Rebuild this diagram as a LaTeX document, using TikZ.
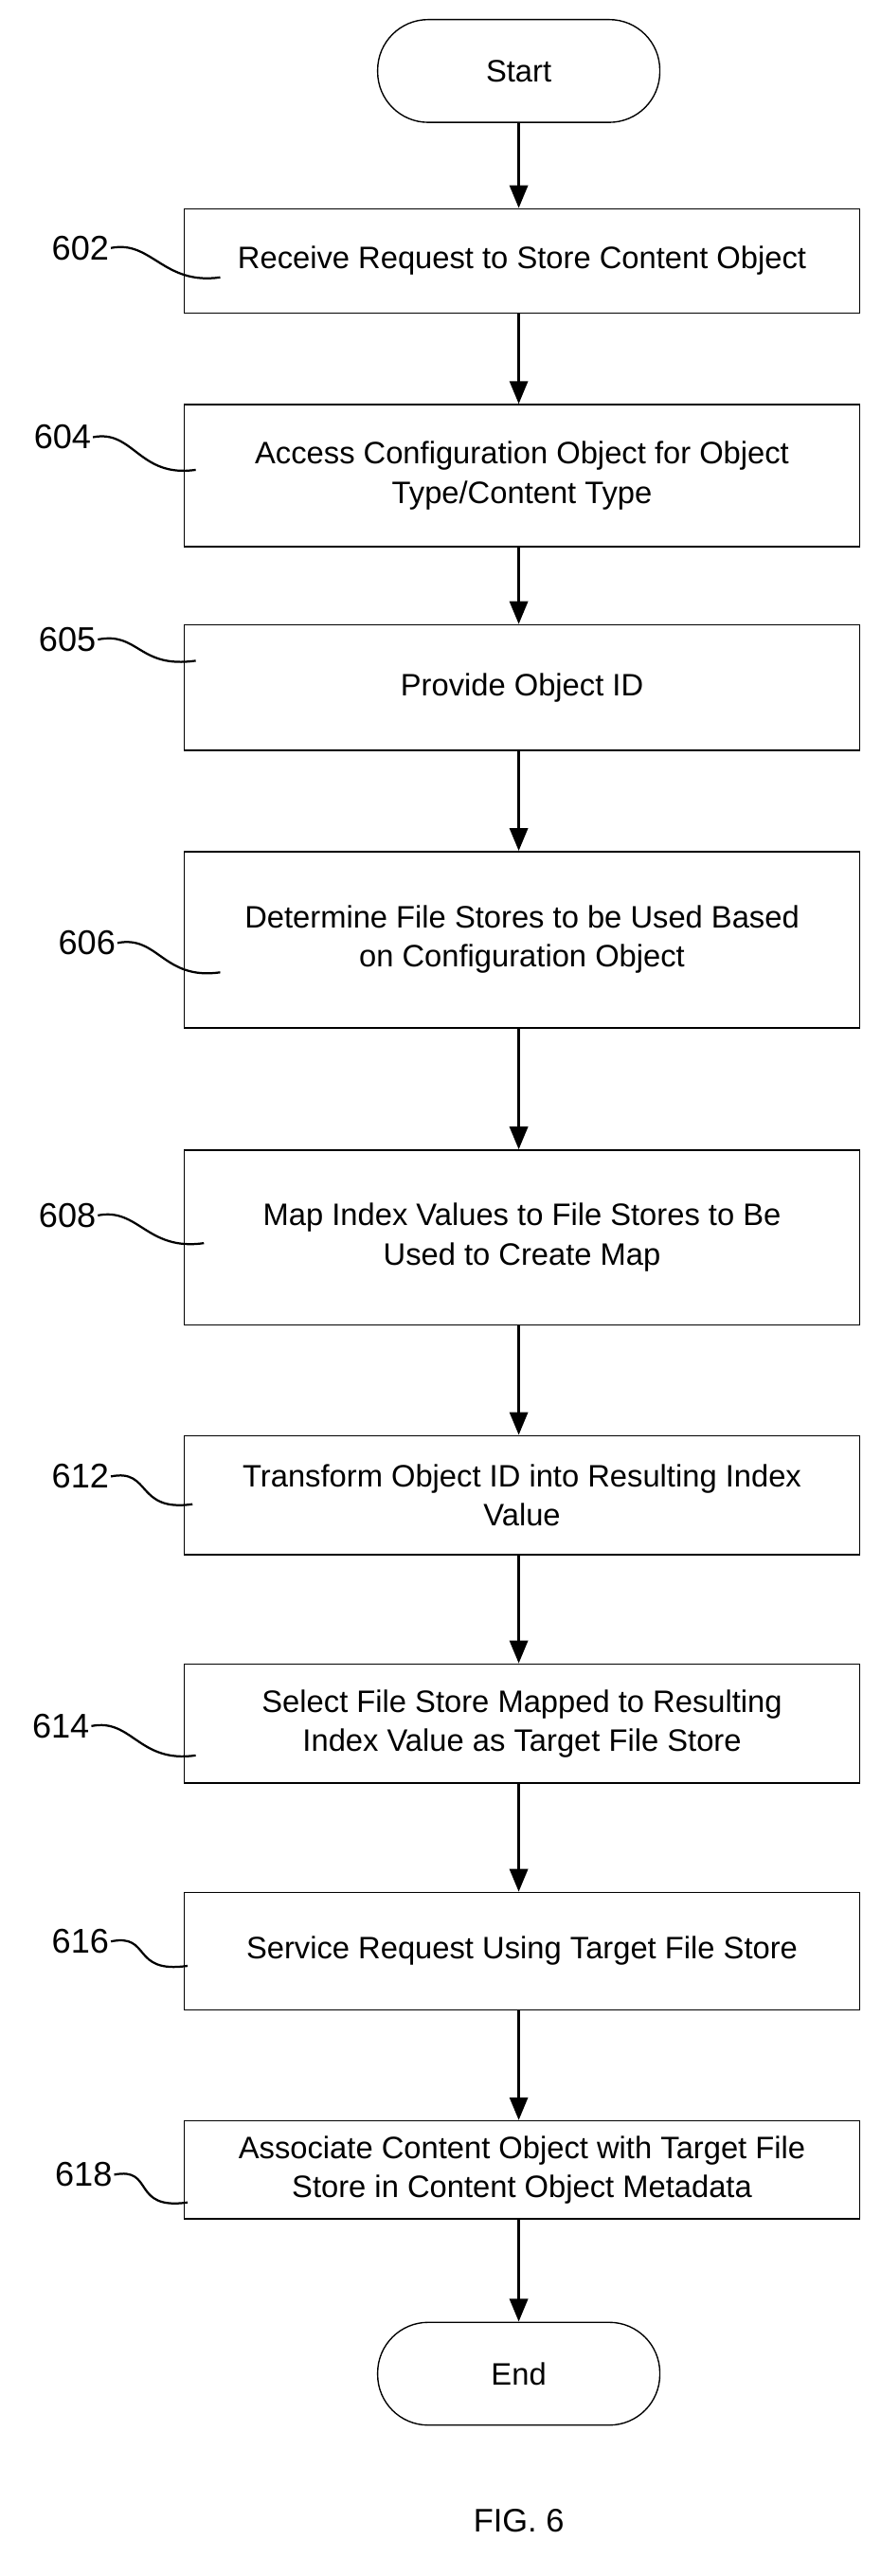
\documentclass[tikz,border=0pt]{standalone}
\usepackage{fontspec}
\setmainfont{Liberation Sans}
\usetikzlibrary{arrows.meta,calc}
\begin{document}
\begin{tikzpicture}[x=1pt,y=-1pt,
 box/.style={draw,thick,minimum width=414pt,align=center,font=\fontsize{19}{24}\selectfont,inner sep=0pt},
 term/.style={draw,thick,rounded corners=31pt,minimum width=173pt,minimum height=63pt,font=\fontsize{19}{24}\selectfont},
 arr/.style={-{Triangle[length=14pt,width=11pt]},line width=2pt},
 lab/.style={font=\fontsize{21}{24}\selectfont,anchor=east,inner sep=1pt},
 sq/.style={line width=1.3pt}]
\useasboundingbox (0,0) rectangle (540,1579);
\node[term] (start) at (318,43.5) {Start};
\node[box,minimum height=64pt] (b602) at (320,160) {Receive Request to Store Content Object};
\node[box,minimum height=87pt] (b604) at (320,291.5) {Access Configuration Object for Object\\Type/Content Type};
\node[box,minimum height=77pt] (b605) at (320,421.5) {Provide Object ID};
\node[box,minimum height=108pt] (b606) at (320,576) {Determine File Stores to be Used Based\\on Configuration Object};
\node[box,minimum height=107pt] (b608) at (320,758.5) {Map Index Values to File Stores to Be\\Used to Create Map};
\node[box,minimum height=73pt] (b612) at (320,916.5) {Transform Object ID into Resulting Index\\Value};
\node[box,minimum height=73pt] (b614) at (320,1056.5) {Select File Store Mapped to Resulting\\Index Value as Target File Store};
\node[box,minimum height=72pt] (b616) at (320,1196) {Service Request Using Target File Store};
\node[box,minimum height=60pt] (b618) at (320,1330) {Associate Content Object with Target File\\Store in Content Object Metadata};
\node[term] (end) at (318,1455) {End};
\node[font=\fontsize{20}{24}\selectfont] (fig) at (318,1545) {FIG. 6};
\foreach \a/\b in {start/b602,b602/b604,b604/b605,b605/b606,b606/b608,b608/b612,b612/b614,b614/b616,b616/b618,b618/end}
 \draw[arr] (\a.south -| start) -- (\b.north -| start);
\foreach \n/\lx/\ly/\ex/\ey in {602/68/152/135/170,604/57/268/120/288,605/60/392/120/405,606/72/578/135/596,608/60/745/125/762,612/68/905/118/922,614/56/1058/120/1076,616/68/1190/115/1205,618/70/1333/115/1350}{
 \node[lab] (l\n) at (\lx,\ly) {\n};
 \coordinate (e\n) at (\ex,\ey);
 \draw[sq] (l\n.east) .. controls ($(l\n.east)+(25,-5)$) and ($(e\n)+(-35,5)$) .. (e\n);
}
\end{tikzpicture}
\end{document}
